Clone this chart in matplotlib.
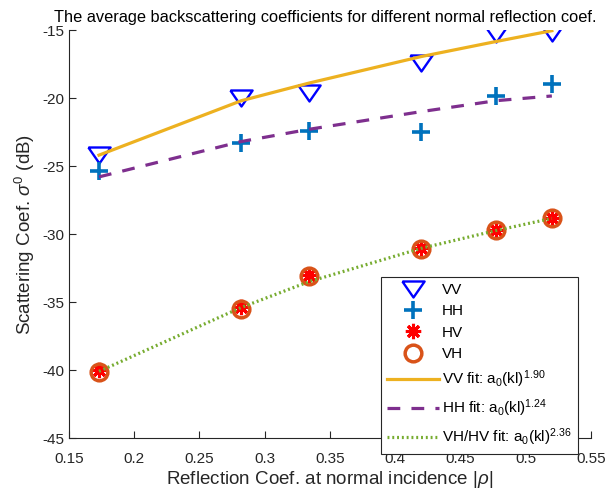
import numpy as np
import matplotlib.pyplot as plt

plt.rcParams['font.family'] = ['Liberation Sans', 'DejaVu Sans']
plt.rcParams['mathtext.fontset'] = 'custom'
plt.rcParams['mathtext.rm'] = 'Liberation Sans'
plt.rcParams['mathtext.it'] = 'Liberation Sans:italic'
plt.rcParams['axes.unicode_minus'] = False

# reflection coefficient at normal incidence
rho = [0.173, 0.282, 0.334, 0.420, 0.477, 0.520]

# measured backscattering coefficients (dB)
vv = [-24.2, -20.0, -19.65, -17.45, -15.3, -15.25]
hh = [-25.4, -23.3, -22.4, -22.5, -19.85, -18.95]
hv = [-40.0, -35.4, -33.0, -31.0, -29.7, -28.8]
vh = [-40.15, -35.5, -33.1, -31.1, -29.7, -28.8]

# power law fits
vv_fit = [-24.2, -20.2, -18.9, -16.95, -15.85, -15.05]
hh_fit = [-25.8, -23.2, -22.3, -21.0, -20.2, -19.85]
xh_fit = [-40.1, -35.4, -33.5, -31.05, -29.75, -28.85]

xticks = [0.15, 0.2, 0.25, 0.3, 0.35, 0.4, 0.45, 0.5, 0.55]
yticks = [-45, -40, -35, -30, -25, -20, -15]

dark = '0.15'
tri = [(-1, 0.72), (1, 0.72), (0, -0.72), (-1, 0.72)]  # wide down triangle

fig = plt.figure(figsize=(6.12, 4.96), dpi=100)
ax = fig.add_axes([0.1127, 0.1169, 0.853, 0.8226])

ax.plot(rho, vv, linestyle='none', marker=tri, ms=16, mfc='none', mec='#0000FF', mew=1.7, label='VV')
ax.plot(rho, hh, linestyle='none', marker='+', ms=13, mec='#0072BD', mew=2.6, label='HH')
ax.plot(rho, hv, linestyle='none', marker=(8, 2, 0), ms=11, mec='#FF0000', mfc='#FF0000', mew=2.2, label='HV')
ax.plot(rho, vh, linestyle='none', marker='o', ms=12, mfc='none', mec='#D95319', mew=2.5, label='VH')
ax.plot(rho, vv_fit, color='#EDB120', lw=2.3, label='VV fit: a$_0$(kl)$^{1.90}$')
ax.plot(rho, hh_fit, color='#7E2F8E', lw=2.3, linestyle=(0, (4, 3.5)), label='HH fit: a$_0$(kl)$^{1.24}$')
ax.plot(rho, xh_fit, color='#77AC30', lw=2.3, linestyle=(0, (0.6, 0.9)), label='VH/HV fit: a$_0$(kl)$^{2.36}$')

ax.set_xlim(0.15, 0.55)
ax.set_ylim(-45, -15)
ax.set_xticks(xticks)
ax.set_xticklabels(['0.15', '0.2', '0.25', '0.3', '0.35', '0.4', '0.45', '0.5', '0.55'])
ax.set_yticks(yticks)
ax.tick_params(direction='in', length=5, width=0.8, colors=dark, labelsize=11, labelcolor=dark)
ax.tick_params(axis='x', pad=10)
for side in ['top', 'right']:
    ax.spines[side].set_visible(False)
for side in ['left', 'bottom']:
    ax.spines[side].set_color(dark)
    ax.spines[side].set_linewidth(0.8)

ax.set_xlabel(r'Reflection Coef. at normal incidence |$\it{\rho}$|', fontsize=13.5, color=dark, labelpad=2)
ax.set_ylabel(r'Scattering Coef. $\sigma^0$ (dB)', fontsize=13.5, color=dark, labelpad=4)
fig.text(0.532, 1 - 22 / 496, 'The average backscattering coefficients for different normal reflection coef.',
         fontsize=11.8, color='black', ha='center', va='baseline')

leg = fig.legend(loc='upper left', bbox_to_anchor=(381 / 612, 1 - 277 / 496),
                 fontsize=11, frameon=True, fancybox=False, edgecolor=dark,
                 framealpha=1, handlelength=3.4, handletextpad=0.2, labelspacing=0.48,
                 borderpad=0.4, borderaxespad=0)
leg.get_frame().set_linewidth(0.8)

fig.savefig('out.png', dpi=100)
